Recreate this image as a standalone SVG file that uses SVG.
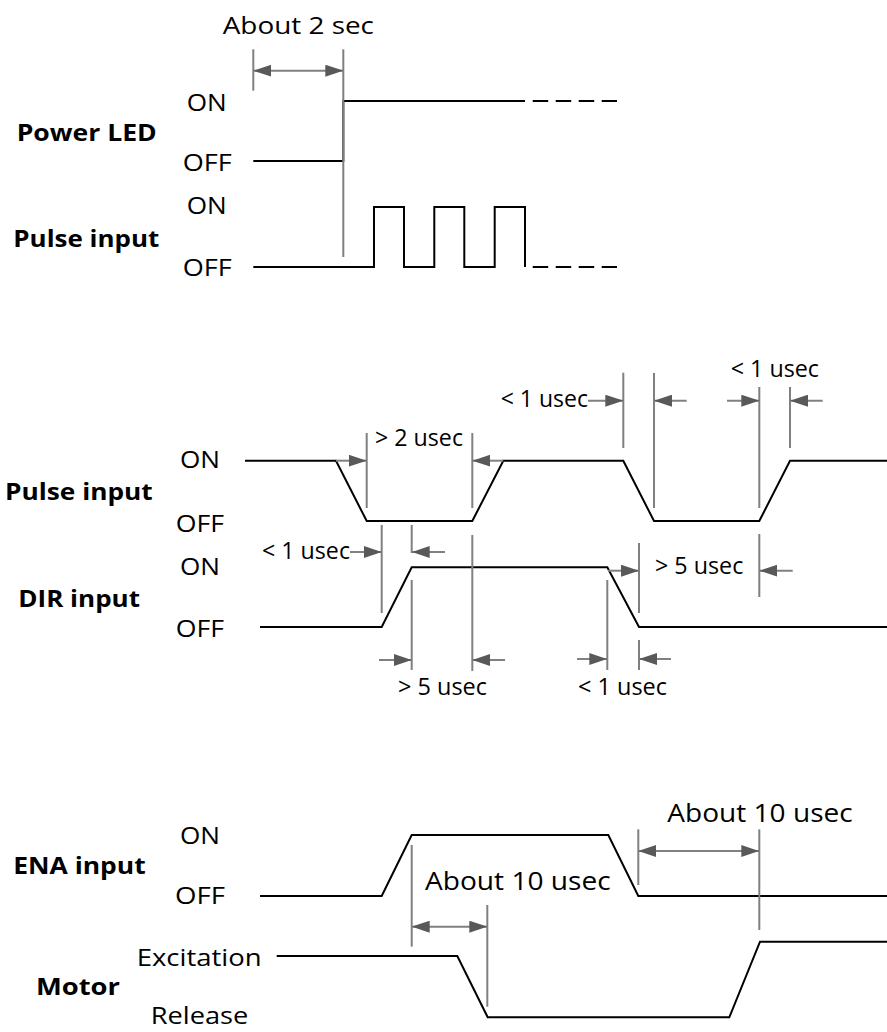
<svg xmlns="http://www.w3.org/2000/svg" width="887" height="1032" viewBox="0 0 887 1032">
<style>
text{font-family:"Open Sans","Liberation Sans",sans-serif;font-size:24px;fill:#000}
.b{font-weight:bold}
.big{font-size:25.5px}
.w{fill:none;stroke:#000;stroke-width:2}
.d{fill:none;stroke:#000;stroke-width:2;stroke-dasharray:15.5 7.5}
.t{stroke:#808080;stroke-width:2}
.a{stroke:#808080;stroke-width:2;marker-end:url(#ah)}
.aa{stroke:#808080;stroke-width:2;marker-end:url(#ah);marker-start:url(#ah)}
</style>
<defs>
<marker id="ah" viewBox="0 0 18 12" refX="18" refY="6" markerWidth="18" markerHeight="12" markerUnits="userSpaceOnUse" orient="auto-start-reverse">
<path d="M0,0 L18,6 L0,12 z" fill="#595959"/>
</marker>
</defs>
<rect width="887" height="1032" fill="#fff"/>

<g id="power-led">
<text class="b" x="16.7" y="140.7" textLength="140" lengthAdjust="spacingAndGlyphs">Power LED</text>
<text x="186.7" y="111" textLength="40" lengthAdjust="spacingAndGlyphs">ON</text>
<text x="182.7" y="170.7" textLength="49" lengthAdjust="spacingAndGlyphs">OFF</text>
<path class="w" d="M253.3,161 H343.3 V101 H525"/>
<path class="d" d="M532.7,101 H617"/>
</g>

<g id="pulse-input-1">
<text class="b" x="13.3" y="246.7" textLength="146" lengthAdjust="spacingAndGlyphs">Pulse input</text>
<text x="186.7" y="214.3" textLength="40" lengthAdjust="spacingAndGlyphs">ON</text>
<text x="182.7" y="276" textLength="49" lengthAdjust="spacingAndGlyphs">OFF</text>
<path class="w" d="M253.3,267 H374 V207 H404 V267 H434.3 V207 H464.3 V267 H494.7 V207 H525 V267"/>
<path class="d" d="M532.7,267 H617"/>
</g>

<g id="pulse-input-2">
<text class="b" x="5" y="500" textLength="147.7" lengthAdjust="spacingAndGlyphs">Pulse input</text>
<text x="180" y="468.3" textLength="40" lengthAdjust="spacingAndGlyphs">ON</text>
<text x="175.7" y="531.7" textLength="48.3" lengthAdjust="spacingAndGlyphs">OFF</text>
<path class="w" d="M245,460.7 H336 L366.7,521 H472.3 L503.3,460.7 H623.3 L654,521 H759.3 L790,460.7 H887"/>
</g>

<g id="dir-input">
<text class="b" x="18.3" y="606.7" textLength="121.7" lengthAdjust="spacingAndGlyphs">DIR input</text>
<text x="180" y="575" textLength="40" lengthAdjust="spacingAndGlyphs">ON</text>
<text x="175.7" y="636.7" textLength="48.3" lengthAdjust="spacingAndGlyphs">OFF</text>
<path class="w" d="M260,627 H381.7 L411.7,567.3 H607.3 L639,627 H887"/>
</g>

<g id="ena-input">
<text class="b" x="13.3" y="874" textLength="132.4" lengthAdjust="spacingAndGlyphs">ENA input</text>
<text x="180" y="844" textLength="40" lengthAdjust="spacingAndGlyphs">ON</text>
<text x="175" y="904.3" textLength="50" lengthAdjust="spacingAndGlyphs">OFF</text>
<path class="w" d="M260,896 H381.7 L411.7,835 H608.3 L638.3,896 H887"/>
</g>

<g id="motor">
<text class="b" x="36" y="995" textLength="84" lengthAdjust="spacingAndGlyphs">Motor</text>
<text x="136.7" y="965.7" textLength="125" lengthAdjust="spacingAndGlyphs">Excitation</text>
<text x="150.7" y="1024.3" textLength="97.6" lengthAdjust="spacingAndGlyphs">Release</text>
<path class="w" d="M276.7,956 H457.3 L487.7,1017.3 H729.3 L760,941.7 H887"/>
</g>

<g id="timing-labels">
<text x="222.7" y="34.3" textLength="151.3" lengthAdjust="spacingAndGlyphs">About 2 sec</text>
<text x="730.7" y="377" textLength="88.3" lengthAdjust="spacingAndGlyphs">&lt; 1 usec</text>
<text x="500.7" y="407" textLength="87.3" lengthAdjust="spacingAndGlyphs">&lt; 1 usec</text>
<text x="375" y="445.7" textLength="88" lengthAdjust="spacingAndGlyphs">&gt; 2 usec</text>
<text x="262" y="559" textLength="88" lengthAdjust="spacingAndGlyphs">&lt; 1 usec</text>
<text x="655" y="574" textLength="88.3" lengthAdjust="spacingAndGlyphs">&gt; 5 usec</text>
<text x="398" y="695" textLength="89" lengthAdjust="spacingAndGlyphs">&gt; 5 usec</text>
<text x="578" y="695" textLength="89" lengthAdjust="spacingAndGlyphs">&lt; 1 usec</text>
<text class="big" x="667.3" y="822.3" textLength="185.4" lengthAdjust="spacingAndGlyphs">About 10 usec</text>
<text class="big" x="425" y="890" textLength="185.7" lengthAdjust="spacingAndGlyphs">About 10 usec</text>
</g>

<g id="connectors">
<line class="t" x1="253.3" y1="49.3" x2="253.3" y2="90.7"/>
<line class="t" x1="343.3" y1="49.3" x2="343.3" y2="257"/>
<line class="aa" x1="253.3" y1="70.7" x2="343.3" y2="70.7"/>

<line class="t" x1="623.3" y1="372.7" x2="623.3" y2="448"/>
<line class="t" x1="654" y1="373" x2="654" y2="508"/>
<line class="t" x1="759.3" y1="387" x2="759.3" y2="508"/>
<line class="t" x1="790" y1="387" x2="790" y2="448"/>
<line class="t" x1="366.7" y1="433" x2="366.7" y2="508"/>
<line class="t" x1="472.3" y1="433" x2="472.3" y2="508"/>
<line class="t" x1="381.7" y1="525" x2="381.7" y2="613"/>
<line class="t" x1="411.7" y1="525" x2="411.7" y2="553"/>
<line class="t" x1="411.7" y1="580" x2="411.7" y2="670"/>
<line class="t" x1="472.3" y1="535" x2="472.3" y2="671"/>
<line class="t" x1="607.3" y1="580" x2="607.3" y2="670"/>
<line class="t" x1="639" y1="543" x2="639" y2="613"/>
<line class="t" x1="639" y1="640" x2="639" y2="670"/>
<line class="t" x1="759.3" y1="534" x2="759.3" y2="597"/>

<line class="a" x1="588" y1="400.7" x2="623.3" y2="400.7"/>
<line class="a" x1="686.7" y1="400.7" x2="654" y2="400.7"/>
<line class="a" x1="727" y1="400.7" x2="759.3" y2="400.7"/>
<line class="a" x1="822.7" y1="400.7" x2="790" y2="400.7"/>
<line class="a" x1="336" y1="460.7" x2="366.7" y2="460.7"/>
<line class="a" x1="503.3" y1="460.7" x2="472.3" y2="460.7"/>
<line class="a" x1="350" y1="552" x2="381.7" y2="552"/>
<line class="a" x1="445" y1="552" x2="411.7" y2="552"/>
<line class="a" x1="608" y1="570.7" x2="639" y2="570.7"/>
<line class="a" x1="792.7" y1="570.7" x2="759.3" y2="570.7"/>
<line class="a" x1="379" y1="660" x2="411.7" y2="660"/>
<line class="a" x1="505" y1="660" x2="472.3" y2="660"/>
<line class="a" x1="577" y1="659" x2="607.3" y2="659"/>
<line class="a" x1="671" y1="659" x2="639" y2="659"/>

<line class="t" x1="411.7" y1="845" x2="411.7" y2="946.7"/>
<line class="t" x1="487.3" y1="905" x2="487.3" y2="1006.7"/>
<line class="t" x1="638.3" y1="829.3" x2="638.3" y2="885"/>
<line class="t" x1="759.3" y1="829.3" x2="759.3" y2="930"/>
<line class="aa" x1="411.7" y1="926.7" x2="487.3" y2="926.7"/>
<line class="aa" x1="638.3" y1="851" x2="759.3" y2="851"/>
</g>
</svg>
